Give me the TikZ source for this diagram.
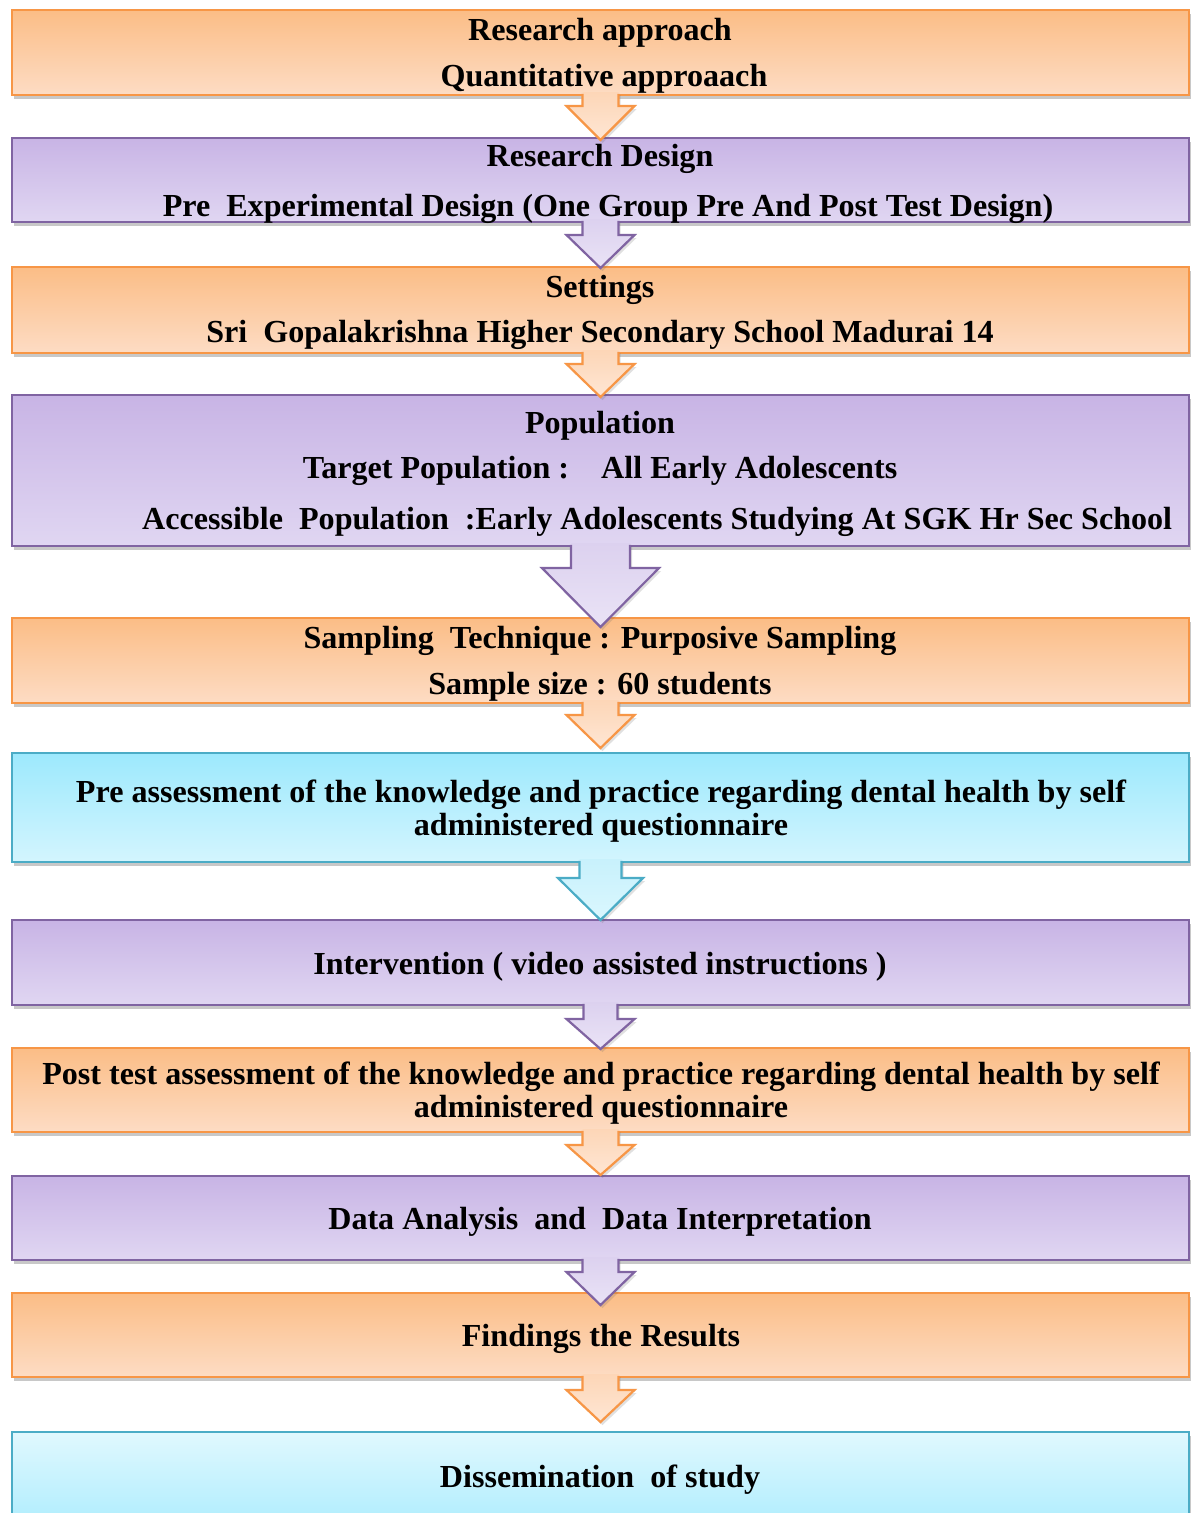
\documentclass[tikz,border=0pt]{standalone}
\usepackage{fontspec}
\setmainfont{Liberation Serif}
\usetikzlibrary{shadows,calc}
\definecolor{oBor}{HTML}{F79646}
\definecolor{oTop}{HTML}{FBBD86}
\definecolor{oBot}{HTML}{FDDCC4}
\definecolor{oAT}{HTML}{FDD6B7}
\definecolor{oAB}{HTML}{FEE6D4}
\definecolor{pBor}{HTML}{8064A2}
\definecolor{pTop}{HTML}{C8B4E5}
\definecolor{pBot}{HTML}{E0D6F2}
\definecolor{pAT}{HTML}{DCD1EF}
\definecolor{pAB}{HTML}{EAE3F6}
\definecolor{cBor}{HTML}{4BACC6}
\definecolor{cTop}{HTML}{9DE9FD}
\definecolor{cBot}{HTML}{D3F5FE}
\definecolor{cAT}{HTML}{C8F1FC}
\definecolor{cAB}{HTML}{DAF7FE}
\tikzset{
  box/.style={draw, line width=2.2pt, minimum width=1177pt, inner sep=0pt, outer sep=0pt,
    drop shadow={shadow xshift=2pt, shadow yshift=-4pt, opacity=0.3, fill=black!70}},
  obox/.style={box, draw=oBor, top color=oTop, bottom color=oBot},
  pbox/.style={box, draw=pBor, top color=pTop, bottom color=pBot},
  cbox/.style={box, draw=cBor, top color=cTop, bottom color=cBot},
  cboxr/.style={box, draw=cBor, top color=cBot!70!white, bottom color=cTop},
  ofill/.style={top color=oAT, bottom color=oAB, drop shadow={shadow xshift=2pt, shadow yshift=-3pt, opacity=0.2, fill=black!60}},
  pfill/.style={top color=pAT, bottom color=pAB, drop shadow={shadow xshift=2pt, shadow yshift=-3pt, opacity=0.2, fill=black!60}},
  cfill/.style={top color=cAT, bottom color=cAB, drop shadow={shadow xshift=2pt, shadow yshift=-3pt, opacity=0.2, fill=black!60}},
  txt/.style={font=\fontsize{32.1}{33}\selectfont\bfseries, anchor=base, inner sep=0pt},
}
% #1 from node, #2 shaft length, #3 head length, #4 shaft half, #5 head half, #6 fill style, #7 border colour
\newcommand\blockarr[7]{%
  \path[#6] ($(#1.south)+(-#4,-3)$) -- ++(0,#2+3) -- ++(-#5+#4,0) -- ++(#5,#3) -- ++(#5,-#3) -- ++(-#5+#4,0) -- ++(0,-#2-3) -- cycle;
  \draw[#7, line width=2.2pt, line join=miter] ($(#1.south)+(-#4,-1.1)$) -- ++(0,#2+1.1) -- ++(-#5+#4,0) -- ++(#5,#3) -- ++(#5,-#3) -- ++(-#5+#4,0) -- ++(0,-#2-1.1);
}
\begin{document}
\begin{tikzpicture}[x=1pt,y=-1pt]
\useasboundingbox[fill=white] (0,0) rectangle (1198,1513);
\begin{scope}
\clip (0,0) rectangle (1198,1513);
% boxes
\node[obox, minimum height=85pt]  (b1)  at (600.5,52.5) {};
\node[pbox, minimum height=84pt]  (b2)  at (600.5,180) {};
\node[obox, minimum height=86pt]  (b3)  at (600.5,310) {};
\node[pbox, minimum height=151pt] (b4)  at (600.5,470.5) {};
\node[obox, minimum height=85pt]  (b5)  at (600.5,660.5) {};
\node[cbox, minimum height=109pt] (b6)  at (600.5,807.5) {};
\node[pbox, minimum height=85pt]  (b7)  at (600.5,962.5) {};
\node[obox, minimum height=84pt]  (b8)  at (600.5,1090) {};
\node[pbox, minimum height=84pt]  (b9)  at (600.5,1218) {};
\node[obox, minimum height=84pt]  (b10) at (600.5,1335) {};
\node[cboxr, minimum height=128pt] (b11) at (600.5,1496) {};
% arrows
\blockarr{b1}{11}{34}{18}{34}{ofill}{oBor}
\blockarr{b2}{13}{33}{18}{34}{pfill}{pBor}
\blockarr{b3}{11}{33}{18}{34}{ofill}{oBor}
\blockarr{b4}{22}{59}{29.5}{58.5}{pfill}{pBor}
\blockarr{b5}{12}{33}{18}{34}{ofill}{oBor}
\blockarr{b6}{16}{42}{21}{42.5}{cfill}{cBor}
\blockarr{b7}{14}{30}{17}{34}{pfill}{pBor}
\blockarr{b8}{13}{30}{18}{34}{ofill}{oBor}
\blockarr{b9}{12}{33}{18}{34}{pfill}{pBor}
\blockarr{b10}{13}{32}{18}{34}{ofill}{oBor}
% texts
\node[txt] (t1a) at (600,40) {Research approach};
\node[txt] (t1b) at (604,86) {Quantitative approaach};
\node[txt] (t2a) at (600,166) {Research Design};
\node[txt] (t2b) at (608,216) {Pre\ \ Experimental Design (One Group Pre And Post Test Design)};
\node[txt] (t3a) at (600,297) {Settings};
\node[txt] (t3b) at (600,342) {Sri\ \ Gopalakrishna Higher Secondary School Madurai 14};
\node[txt] (t4a) at (600,433) {Population};
\node[txt] (t4b) at (600,478) {Target Population :\ \ \ \ All Early Adolescents};
\node[txt, anchor=base west] (t4c) at (142,529) {Accessible\ \ Population\ \ :Early Adolescents Studying At SGK Hr Sec School};
\node[txt] (t5a) at (600,648) {Sampling\ \ Technique : Purposive Sampling};
\node[txt] (t5b) at (600,694) {Sample size : 60 students};
\node[txt] (t6a) at (601,802) {Pre assessment of the knowledge and practice regarding dental health by self};
\node[txt] (t6b) at (601,835) {administered questionnaire};
\node[txt] (t7) at (600,974) {Intervention ( video assisted instructions )};
\node[txt] (t8a) at (601,1084) {Post test assessment of the knowledge and practice regarding dental health by self};
\node[txt] (t8b) at (601,1117) {administered questionnaire};
\node[txt] (t9) at (600,1229) {Data Analysis\ \ and\ \ Data Interpretation};
\node[txt] (t10) at (601,1346) {Findings the Results};
\node[txt] (t11) at (600,1487) {Dissemination\ \ of study};
\end{scope}
\end{tikzpicture}
\end{document}
